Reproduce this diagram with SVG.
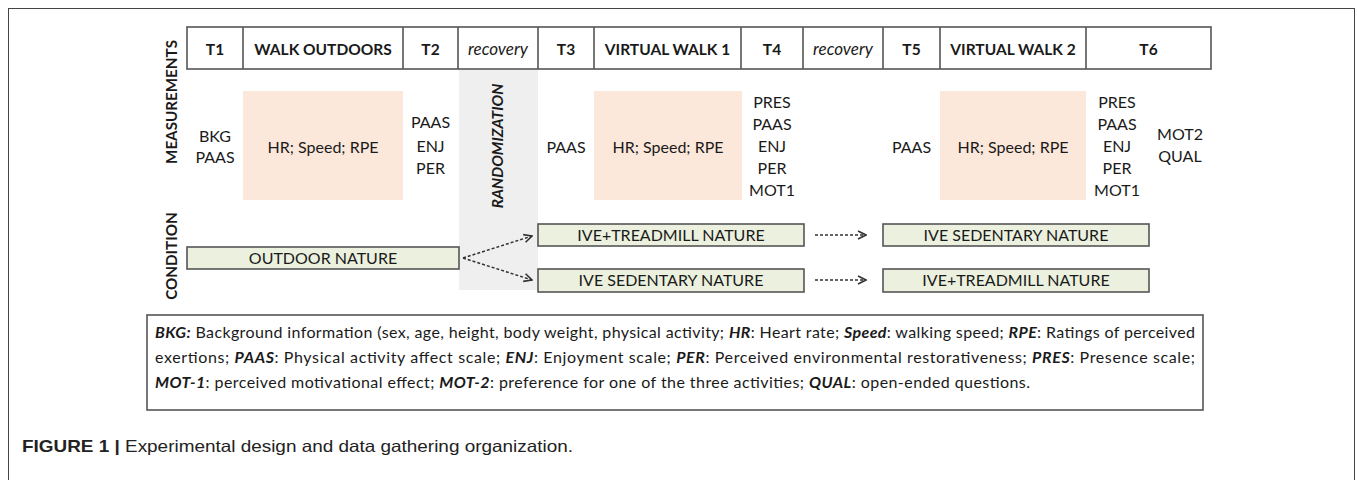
<svg xmlns="http://www.w3.org/2000/svg" width="1357" height="480" viewBox="0 0 1357 480">
<style>
  .t{font-family:Lato,"Liberation Sans",sans-serif;fill:#1a1a1a}
  .hd{font-size:15.5px;font-weight:bold;text-anchor:middle}
  .it{font-size:17px;font-style:italic;text-anchor:middle}
  .m{font-size:16px;text-anchor:middle}
  .cell{fill:#fff;stroke:#555;stroke-width:1.6}
  .peach{fill:#fce8da}
  .cond{fill:#ebf1de;stroke:#555;stroke-width:1.6}
  .conn{fill:none;stroke:#333;stroke-width:1.5;stroke-dasharray:3 2}
  .lg{font-size:16px}
  .b{font-weight:bold;font-style:italic}
</style>
<defs>
  <marker id="arr" viewBox="0 0 10 10" refX="9" refY="5" markerWidth="10" markerHeight="10" markerUnits="userSpaceOnUse" orient="auto">
    <path d="M1,1 L9,5 L1,9" fill="none" stroke="#333" stroke-width="1.6"/>
  </marker>
</defs>
<rect x="0" y="0" width="1357" height="480" fill="#fff"/>
<rect x="8.5" y="8.5" width="1346" height="500" fill="none" stroke="#444" stroke-width="1"/>

<g id="randomization">
  <rect x="459" y="70" width="79" height="220" fill="#efefef"/>
  <text class="t" x="0" y="0" transform="translate(503,146) rotate(-90)" style="font-size:15.5px;font-weight:bold;font-style:italic;text-anchor:middle">RANDOMIZATION</text>
</g>

<g id="header">
  <rect class="cell" x="187" y="27" width="1024" height="42"/>
  <path d="M243,27V69M403,27V69M458,27V69M538,27V69M594,27V69M741,27V69M803,27V69M883,27V69M940,27V69M1086,27V69" stroke="#555" stroke-width="1.6"/>
  <text class="t hd" x="215" y="55">T1</text>
  <text class="t hd" x="323" y="55">WALK OUTDOORS</text>
  <text class="t hd" x="430.5" y="55">T2</text>
  <text class="t it" x="498" y="55">recovery</text>
  <text class="t hd" x="566" y="55">T3</text>
  <text class="t hd" x="667.5" y="55">VIRTUAL WALK 1</text>
  <text class="t hd" x="772" y="55">T4</text>
  <text class="t it" x="843" y="55">recovery</text>
  <text class="t hd" x="911.5" y="55">T5</text>
  <text class="t hd" x="1013" y="55">VIRTUAL WALK 2</text>
  <text class="t hd" x="1148.5" y="55">T6</text>
</g>

<g id="labels">
  <text class="t" transform="translate(177,102) rotate(-90)" style="font-size:15.2px;font-weight:bold;text-anchor:middle">MEASUREMENTS</text>
  <text class="t" transform="translate(177,256) rotate(-90)" style="font-size:15.2px;font-weight:bold;text-anchor:middle">CONDITION</text>
</g>

<g id="measures-t1"><text class="t m" x="215" y="142">BKG</text><text class="t m" x="215" y="163">PAAS</text></g>
<g id="walk-outdoors-measures">
  <rect class="peach" x="243" y="91" width="160" height="109"/>
  <text class="t m" x="323" y="153">HR; Speed; RPE</text>
</g>
<g id="measures-t2"><text class="t m" x="430.5" y="128">PAAS</text><text class="t m" x="430.5" y="152">ENJ</text><text class="t m" x="430.5" y="174">PER</text></g>
<g id="measures-t3"><text class="t m" x="566" y="153">PAAS</text></g>
<g id="vw1-measures">
  <rect class="peach" x="594" y="91" width="148" height="109"/>
  <text class="t m" x="668" y="153">HR; Speed; RPE</text>
</g>
<g id="measures-t4">
  <text class="t m" x="772" y="108">PRES</text><text class="t m" x="772" y="130">PAAS</text><text class="t m" x="772" y="152">ENJ</text><text class="t m" x="772" y="174">PER</text><text class="t m" x="772" y="196">MOT1</text>
</g>
<g id="measures-t5"><text class="t m" x="911.5" y="153">PAAS</text></g>
<g id="vw2-measures">
  <rect class="peach" x="940" y="91" width="146" height="109"/>
  <text class="t m" x="1013" y="153">HR; Speed; RPE</text>
</g>
<g id="measures-t6">
  <text class="t m" x="1117" y="108">PRES</text><text class="t m" x="1117" y="130">PAAS</text><text class="t m" x="1117" y="152">ENJ</text><text class="t m" x="1117" y="174">PER</text><text class="t m" x="1117" y="196">MOT1</text>
  <text class="t m" x="1180" y="140">MOT2</text><text class="t m" x="1180" y="162">QUAL</text>
</g>

<g id="outdoor-nature"><rect class="cond" x="187" y="247" width="272" height="22"/><text class="t m" x="323" y="264">OUTDOOR NATURE</text></g>
<g id="ive-treadmill-1"><rect class="cond" x="538" y="224" width="266" height="22"/><text class="t m" x="671" y="241">IVE+TREADMILL NATURE</text></g>
<g id="ive-sedentary-1"><rect class="cond" x="538" y="269" width="266" height="23"/><text class="t m" x="671" y="286">IVE SEDENTARY NATURE</text></g>
<g id="ive-sedentary-2"><rect class="cond" x="883" y="224" width="266" height="22"/><text class="t m" x="1016" y="241">IVE SEDENTARY NATURE</text></g>
<g id="ive-treadmill-2"><rect class="cond" x="883" y="269" width="266" height="23"/><text class="t m" x="1016" y="286">IVE+TREADMILL NATURE</text></g>

<g id="connectors">
  <path class="conn" d="M463,258 L532,236" marker-end="url(#arr)"/>
  <path class="conn" d="M463,258 L532,280" marker-end="url(#arr)"/>
  <path class="conn" d="M815,235 L866,235" marker-end="url(#arr)"/>
  <path class="conn" d="M815,280 L866,280" marker-end="url(#arr)"/>
</g>

<g id="legend">
  <rect x="147" y="315" width="1056" height="95" fill="#fff" stroke="#555" stroke-width="1.6"/>
  <text class="t lg" x="155" y="338" textLength="1040" lengthAdjust="spacing"><tspan class="b">BKG:</tspan> Background information (sex, age, height, body weight, physical activity; <tspan class="b">HR</tspan>: Heart rate; <tspan class="b">Speed</tspan>: walking speed; <tspan class="b">RPE</tspan>: Ratings of perceived</text>
  <text class="t lg" x="155" y="363" textLength="1040" lengthAdjust="spacing">exertions; <tspan class="b">PAAS</tspan>: Physical activity affect scale; <tspan class="b">ENJ</tspan>: Enjoyment scale; <tspan class="b">PER</tspan>: Perceived environmental restorativeness; <tspan class="b">PRES</tspan>: Presence scale;</text>
  <text class="t lg" x="155" y="388" textLength="875" lengthAdjust="spacing"><tspan class="b">MOT-1</tspan>: perceived motivational effect; <tspan class="b">MOT-2</tspan>: preference for one of the three activities; <tspan class="b">QUAL</tspan>: open-ended questions.</text>
</g>

<g id="caption">
  <text x="22" y="452" textLength="551" lengthAdjust="spacingAndGlyphs" style="font-family:'Liberation Sans',Arial,sans-serif;font-size:16.5px;fill:#222"><tspan font-weight="bold">FIGURE 1 |</tspan> Experimental design and data gathering organization.</text>
</g>
</svg>
